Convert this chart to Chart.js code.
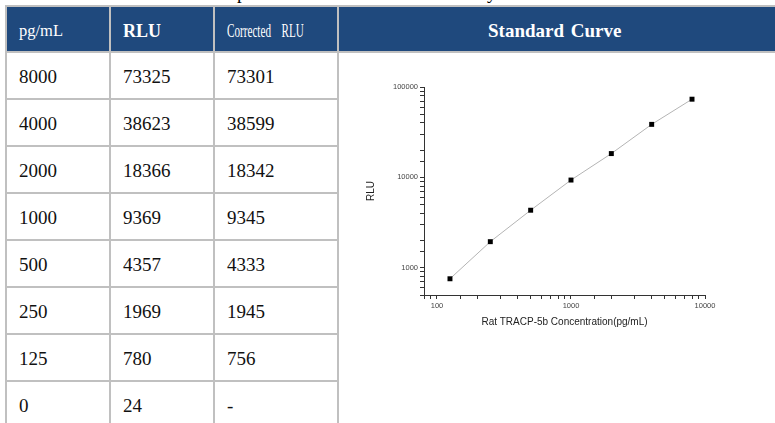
<!DOCTYPE html>
<html>
<head>
<meta charset="utf-8">
<script src="https://cdn.jsdelivr.net/npm/chart.js@4/dist/chart.umd.min.js"></script>
<style>
html,body{margin:0;padding:0;background:#fff;overflow:hidden;}
body{position:relative;height:423px;}
#intro{position:absolute;left:35px;top:-17px;font:19px/19px "Liberation Serif","Times New Roman",serif;color:#000;white-space:nowrap;}
#grid{position:absolute;left:5px;top:5px;width:790px;background:#c0c0c0;padding:2px 0 0 2px;display:grid;
  grid-template-columns:102px 102px 122px 460px;grid-template-rows:44px repeat(8,45px);gap:2px;}
.h{background:#1f497d;color:#fff;font-family:"Liberation Serif","Times New Roman",serif;display:flex;align-items:center;
  padding-left:12px;padding-top:4px;box-sizing:border-box;white-space:nowrap;overflow:hidden;}
.h1{font-size:16.5px;}
.h2{font-size:18px;font-weight:bold;}
.h3 span{display:inline-block;font-size:18px;transform:scaleX(0.62);transform-origin:left center;word-spacing:4px;}
.h4{font-size:19px;font-weight:bold;justify-content:flex-start;padding-left:149px;word-spacing:2px;}
.c{background:#fff;color:#111;font:19px "Liberation Serif","Times New Roman",serif;display:flex;align-items:center;
  padding-left:12px;padding-top:2px;box-sizing:border-box;white-space:nowrap;}
#chartCell{background:#fff;grid-column:4;grid-row:2 / span 8;position:relative;overflow:hidden;}
#chart{position:absolute;left:0;top:0;}
</style>
</head>
<body>
<div id="intro">standard curve and data is provided below for reference only.</div>
<div id="grid"></div>
<script>
// ---- data ----
const headers = ["pg/mL", "RLU", "Corrected  RLU", "Standard Curve"];
const concentrations = [8000, 4000, 2000, 1000, 500, 250, 125, 0];
const rlu = [73325, 38623, 18366, 9369, 4357, 1969, 780, 24];
const correctedRlu = [73301, 38599, 18342, 9345, 4333, 1945, 756, "-"];
const xTickLabels = [100, 1000, 10000];
const yTickLabels = [1000, 10000, 100000];
const xTitle = "Rat TRACP-5b Concentration(pg/mL)";
const yTitle = "RLU";

// ---- table ----
const grid = document.getElementById('grid');
function cell(cls, html, col, row) {
  const d = document.createElement('div');
  d.className = cls;
  d.innerHTML = html;
  d.style.gridColumn = col;
  d.style.gridRow = row;
  grid.appendChild(d);
  return d;
}
cell('h h1', headers[0], 1, 1);
cell('h h2', headers[1], 2, 1);
cell('h h3', '<span>' + headers[2].replace(/ /g, '&nbsp;') + '</span>', 3, 1);
cell('h h4', headers[3], 4, 1);
concentrations.forEach((c, i) => {
  cell('c', String(c), 1, i + 2);
  cell('c', String(rlu[i]), 2, i + 2);
  cell('c', String(correctedRlu[i]), 3, i + 2);
});
const chartCell = document.createElement('div');
chartCell.id = 'chartCell';
chartCell.innerHTML = '<canvas id="chart" width="436" height="370"></canvas>';
grid.appendChild(chartCell);

// ---- chart ----
const points = concentrations
  .map((c, i) => ({ x: c, y: correctedRlu[i] }))
  .filter(p => p.x > 0 && typeof p.y === 'number');

const tickFont = { family: 'Liberation Sans', size: 7.5 };
const titleFont = { family: 'Liberation Sans', size: 10 };

new Chart(document.getElementById('chart'), {
  type: 'scatter',
  data: {
    datasets: [{
      data: points,
      showLine: true,
      borderColor: '#b4b4b4',
      borderWidth: 1,
      pointStyle: 'rect',
      pointRadius: 3.5,
      pointHoverRadius: 3.5,
      pointBackgroundColor: '#000',
      pointBorderWidth: 0
    }]
  },
  options: {
    responsive: false,
    animation: false,
    events: [],
    plugins: { legend: { display: false }, tooltip: { enabled: false } },
    layout: { padding: { left: 26, right: 70, top: 34, bottom: 95 } },
    scales: {
      x: {
        type: 'logarithmic',
        min: 80, max: 10000,
        afterFit(s) { s.height = 33; },
        border: { display: true, color: '#333', width: 1 },
        grid: { drawOnChartArea: false, drawTicks: true, tickLength: 4, color: '#333' },
        ticks: {
          autoSkip: false, maxRotation: 0, padding: 2, font: tickFont, color: '#444',
          callback: v => xTickLabels.includes(Math.round(v)) ? String(Math.round(v)) : ''
        },
        title: { display: true, text: xTitle, font: titleFont, color: '#222', padding: 0 }
      },
      y: {
        type: 'logarithmic',
        min: 500, max: 100000,
        afterFit(s) { s.width = 59; },
        border: { display: true, color: '#333', width: 1 },
        grid: { drawOnChartArea: false, drawTicks: true, tickLength: 4, color: '#333' },
        ticks: {
          autoSkip: false, padding: 2, font: tickFont, color: '#444',
          callback: v => yTickLabels.includes(Math.round(v)) ? String(Math.round(v)) : ''
        },
        title: { display: true, text: yTitle, font: titleFont, color: '#222', padding: 0 }
      }
    }
  }
});
</script>
</body>
</html>
